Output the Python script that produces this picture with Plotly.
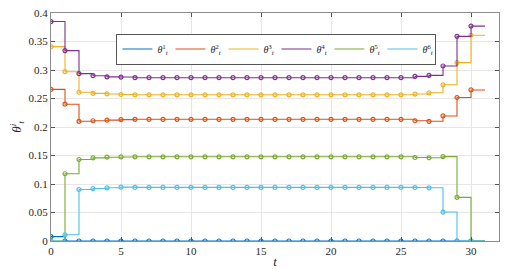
import plotly.graph_objects as go

t = list(range(31))

theta1 = [0.0077] + [0.0] * 30
theta2 = [0.266, 0.240, 0.210, 0.211, 0.212, 0.213] + [0.2135] * 20 + [0.211, 0.210, 0.2194, 0.2517, 0.265]
theta3 = [0.341, 0.297, 0.261, 0.259, 0.258, 0.257] + [0.2565] * 20 + [0.2578, 0.260, 0.274, 0.313, 0.361]
theta4 = [0.385, 0.334, 0.2936, 0.290, 0.288, 0.2876] + [0.2865] * 20 + [0.2888, 0.2906, 0.307, 0.359, 0.377]
theta5 = [0.0, 0.118, 0.143, 0.1459, 0.147, 0.1475] + [0.1477] * 20 + [0.1465, 0.146, 0.148, 0.0766, 0.0]
theta6 = [0.0, 0.011, 0.0903, 0.092, 0.0933, 0.0945] + [0.0940] * 20 + [0.0938, 0.0933, 0.0508, 0.0, 0.0]

series = [theta1, theta2, theta3, theta4, theta5, theta6]
names = ["<i>θ</i><sup>1</sup><sub><i>t</i></sub>", "<i>θ</i><sup>2</sup><sub><i>t</i></sub>",
         "<i>θ</i><sup>3</sup><sub><i>t</i></sub>", "<i>θ</i><sup>4</sup><sub><i>t</i></sub>",
         "<i>θ</i><sup>5</sup><sub><i>t</i></sub>", "<i>θ</i><sup>6</sup><sub><i>t</i></sub>"]
colors = ["#0072BD", "#D95319", "#EDB120", "#7E2F8E", "#77AC30", "#4DBEEE"]

fig = go.Figure()
for s, n, c in zip(series, names, colors):
    fig.add_trace(go.Scatter(x=t + [31], y=s + [s[-1]], mode="lines", line=dict(color=c, width=1.1, shape="hv"),
                             name=n, showlegend=True))
    fig.add_trace(go.Scatter(x=t, y=s, mode="markers", marker=dict(symbol="circle-open", size=4, color=c,
                             line=dict(width=1.2, color=c)), showlegend=False, hoverinfo="skip"))

font = "Liberation Serif, DejaVu Serif, serif"
fig.update_layout(
    width=503, height=261,
    margin=dict(l=43, r=12, t=5, b=28),
    paper_bgcolor="white", plot_bgcolor="white",
    font=dict(family=font, size=11, color="#262626"),
    legend=dict(orientation="h", x=0.146, xanchor="left", y=0.91, yanchor="top",
                bgcolor="white", bordercolor="#555555", borderwidth=1,
                font=dict(size=10), entrywidth=8, entrywidthmode="pixels",
                itemwidth=30, tracegroupgap=0),
    xaxis=dict(range=[0, 32], tickvals=[0, 5, 10, 15, 20, 25, 30], ticks="inside", ticklen=4,
               showgrid=True, gridcolor="#e6e6e6", gridwidth=1, zeroline=False, automargin=False,
               ticklabeloverflow="allow",
               showline=True, linecolor="#8c8c8c", linewidth=1, mirror="ticks", tickcolor="#555555",
               title=dict(text="<i>t</i>", standoff=2, font=dict(size=13))),
    yaxis=dict(range=[0, 0.4], tickvals=[0, 0.05, 0.1, 0.15, 0.2, 0.25, 0.3, 0.35, 0.4],
               ticktext=["0", "0.05", "0.1", "0.15", "0.2", "0.25", "0.3", "0.35", "0.4"],
               ticks="inside", ticklen=4, automargin=False, ticklabeloverflow="allow",
               showgrid=True, gridcolor="#e6e6e6", gridwidth=1, zeroline=False,
               showline=True, linecolor="#8c8c8c", linewidth=1, mirror="ticks", tickcolor="#555555",
               title=dict(text="<i>θ</i><sup><i>i</i></sup><sub><i>t</i></sub>", standoff=6, font=dict(size=13))),
)
fig.write_html("out.html")
